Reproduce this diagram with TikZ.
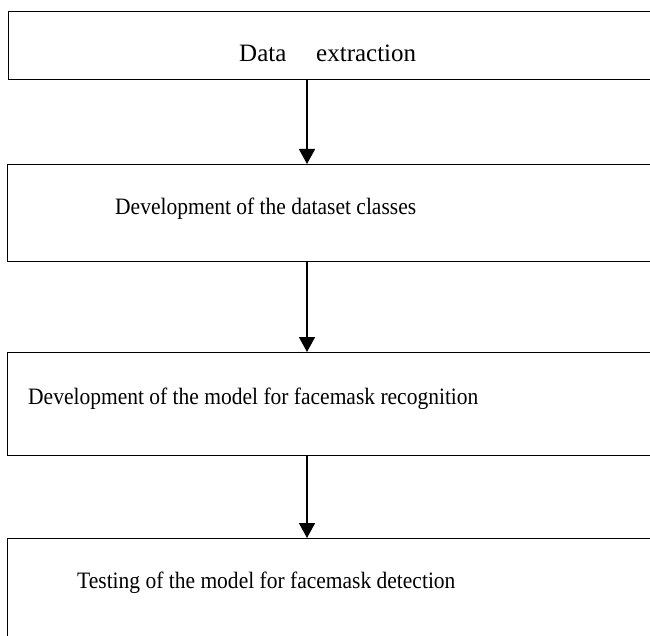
\documentclass[tikz,border=0pt]{standalone}
\usepackage{fontspec}
\setmainfont{Liberation Serif}
\usetikzlibrary{arrows.meta}

\newcommand{\narrowtext}[1]{\scalebox{0.915}[1]{#1}}

\tikzset{
  stagebox/.style={rectangle, draw, line width=1.4pt, minimum width=720pt, anchor=north west, inner sep=0pt},
  stagetext/.style={anchor=base west, inner sep=0pt, font=\fontsize{23.5}{28}\selectfont},
  flowarrow/.style={line width=1.6pt, -{Triangle[width=16pt, length=15pt]}}
}

\begin{document}
\begin{tikzpicture}[x=1pt, y=-1pt]
      \useasboundingbox (0,0) rectangle (650,636);
      \clip (0,0) rectangle (650,636);

      % Boxes
      \node[stagebox, minimum height=68pt] at (8,11) (box1) {};
      \node[stagebox, minimum height=97pt] at (7,164) (box2) {};
      \node[stagebox, minimum height=103pt] at (7,352) (box3) {};
      \node[stagebox, minimum height=120pt] at (7,538) (box4) {};

      % Texts
      \node[stagetext, font=\fontsize{25}{30}\selectfont] at (239,62) (t1) {Data\hspace{29.8pt}extraction};
      \node[stagetext] at (115,215) (t2) {\narrowtext{Development of the dataset classes}};
      \node[stagetext] at (28,404) (t3) {\narrowtext{Development of the model for facemask recognition}};
      \node[stagetext] at (77,588) (t4) {\narrowtext{Testing of the model for facemask detection}};

      % Arrows
      \coordinate (ax) at (307,0);
      \draw[flowarrow] (box1.south -| ax) -- (box2.north -| ax);
      \draw[flowarrow] (box2.south -| ax) -- (box3.north -| ax);
      \draw[flowarrow] (box3.south -| ax) -- (box4.north -| ax);
    \end{tikzpicture}
\end{document}
